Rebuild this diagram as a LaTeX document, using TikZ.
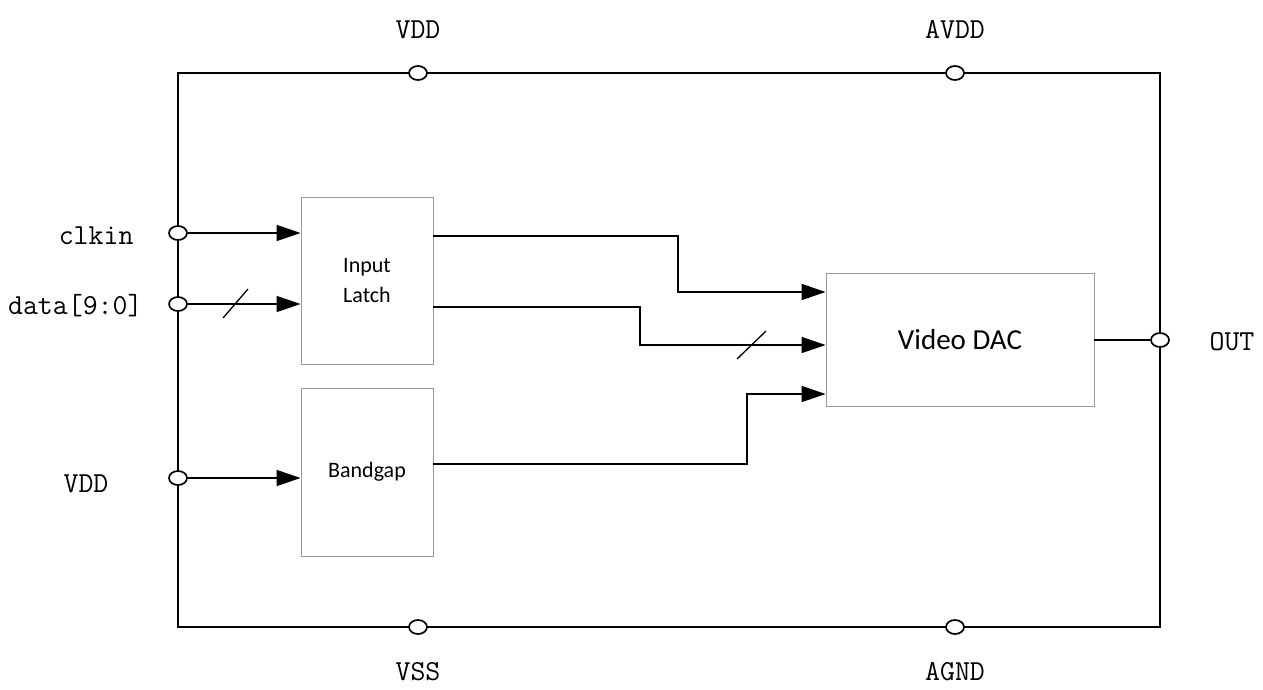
\documentclass[tikz,border=0pt]{standalone}
\usepackage{fontspec}
\newfontfamily\boxfont{Carlito}
\usetikzlibrary{arrows.meta,shapes.geometric}
\begin{document}
\begin{tikzpicture}[x=1pt,y=-1pt,
  wire/.style={line width=1.7pt},
  arr/.style={wire,-{Triangle[length=24pt,width=16pt]}},
  pin/.style={ellipse,draw,line width=1.7pt,fill=white,minimum width=18pt,minimum height=14pt,inner sep=0pt},
  blk/.style={draw=gray!80,line width=0.9pt,inner sep=0pt,font=\boxfont\fontsize{22}{30}\selectfont,align=center},
  lbl/.style={font=\ttfamily\fontsize{29}{29}\selectfont},
  slash/.style={line width=1.3pt}]
\useasboundingbox (0,0) rectangle (1263,689);
% outer frame
\coordinate (tl) at (178,73);
\coordinate (tr) at (1160,73);
\coordinate (bl) at (178,627);
\coordinate (br) at (1160,627);
\draw[wire] (tl) -- (tr) -- (br) -- (bl) -- cycle;
% blocks
\node[blk,minimum width=132pt,minimum height=167pt] (latch) at (367,280.5) {Input\\Latch};
\node[blk,minimum width=132pt,minimum height=168pt] (bg) at (367,472) {Bandgap};
\node[blk,minimum width=268pt,minimum height=133pt,font=\boxfont\fontsize{29}{34}\selectfont] (dac) at (960,339.5) {Video DAC};
% left pins
\node[pin] (pclk) at (178,233) {};
\node[pin] (pdata) at (178,304) {};
\node[pin] (pvdd) at (178,478) {};
\node[lbl,anchor=east] (lclk) at (137,236) {clkin};
\node[lbl,anchor=east] (ldata) at (146,306) {data[9:0]};
\node[lbl] (lvdd) at (86,484) {VDD};
\draw[arr] (pclk) -- (latch.west |- pclk);
\draw[arr] (pdata) -- (latch.west |- pdata);
\draw[arr] (pvdd) -- (bg.west |- pvdd);
\draw[slash] (223,318) -- (248,289);
% top/bottom pins
\node[pin] (ptv) at (418,73) {};
\node[pin] (pta) at (955,73) {};
\node[pin] (pbv) at (418,627) {};
\node[pin] (pba) at (955,627) {};
\node[lbl] (ltv) at (418,30) {VDD};
\node[lbl] (lta) at (955,30) {AVDD};
\node[lbl] (lbv) at (418,672) {VSS};
\node[lbl] (lba) at (955,672) {AGND};
% right pin
\node[pin] (pout) at (1160,340) {};
\node[lbl] (lout) at (1232,342) {OUT};
\draw[wire] (dac.east |- pout) -- (pout);
% latch -> dac
\coordinate (a1) at (433,236);
\coordinate (a2) at (433,307);
\coordinate (a3) at (433,464);
\draw[arr] (a1) -- (678,236) -- (678,292) -- (dac.west |- 0,292);
\draw[arr] (a2) -- (640,307) -- (640,345) -- (dac.west |- 0,345);
\draw[arr] (a3) -- (747,464) -- (747,394) -- (dac.west |- 0,394);
\draw[slash] (737,359) -- (766,331);
\end{tikzpicture}
\end{document}
